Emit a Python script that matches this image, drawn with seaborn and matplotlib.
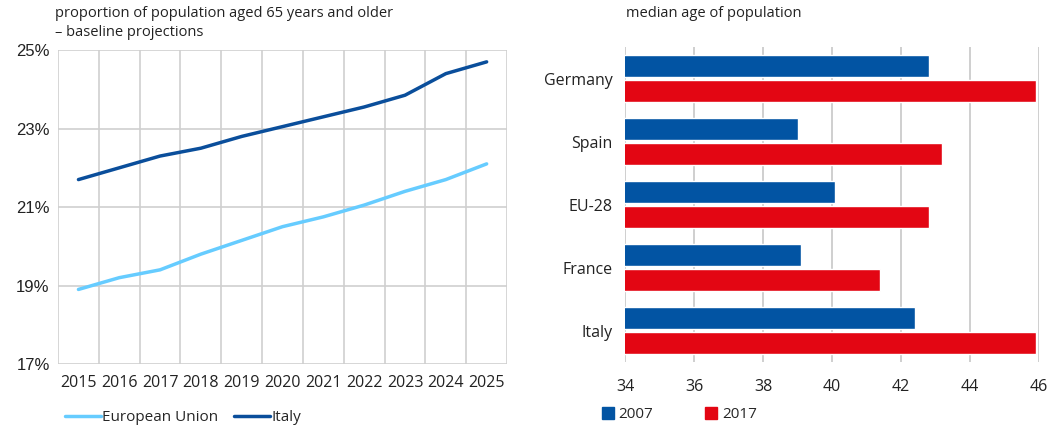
import numpy as np
import pandas as pd
import matplotlib.pyplot as plt
import seaborn as sns
from matplotlib.lines import Line2D
from matplotlib.patches import Patch
from matplotlib.ticker import MultipleLocator, FuncFormatter

# data: share of population aged 65+ (baseline projections)
years = [2015, 2016, 2017, 2018, 2019, 2020, 2021, 2022, 2023, 2024, 2025]
eu_share = [18.9, 19.2, 19.4, 19.8, 20.15, 20.5, 20.75, 21.05, 21.4, 21.7, 22.1]
italy_share = [21.7, 22.0, 22.3, 22.5, 22.8, 23.05, 23.3, 23.55, 23.85, 24.4, 24.7]
share_ticks = [17, 19, 21, 23, 25]

# data: median age of population
countries = ["Germany", "Spain", "EU-28", "France", "Italy"]
median_2007 = [42.8, 39.0, 40.1, 39.1, 42.4]
median_2017 = [45.9, 43.2, 42.8, 41.4, 45.9]

c_eu = "#66CCFF"
c_it = "#0A4E9B"
c_2007 = "#0254A3"
c_2017 = "#E30613"
grid_c = "#CFCFCF"

sns.set_style("white")
plt.rcParams["font.family"] = ["Open Sans", "DejaVu Sans"]
plt.rcParams["font.size"] = 11

fig = plt.figure(figsize=(10.63, 4.30), dpi=100)

###################################################################
# left: line chart
###################################################################
ax1 = fig.add_axes([0.0546, 0.1535, 0.4224, 0.730])
line_df = pd.DataFrame({
    "year": years * 2,
    "share": eu_share + italy_share,
    "region": ["European Union"] * len(years) + ["Italy"] * len(years),
})
sns.lineplot(data=line_df, x="year", y="share", hue="region",
             palette={"European Union": c_eu, "Italy": c_it},
             linewidth=2.5, ax=ax1, legend=False)

ax1.set_xlim(2014.5, 2025.5)
ax1.set_ylim(17, 25)
ax1.set_xticks(years)
ax1.set_xticks(np.arange(2014.5, 2026, 1), minor=True)
ax1.set_yticks(share_ticks)
ax1.yaxis.set_major_formatter(FuncFormatter(lambda v, p: f"{v:.0f}%"))
ax1.grid(which="minor", axis="x", color=grid_c, linewidth=1.2)
ax1.grid(which="major", axis="y", color=grid_c, linewidth=1.2)
ax1.tick_params(axis="both", which="both", length=0, labelsize=11.5, colors="#222222")
ax1.tick_params(axis="x", pad=8)
ax1.tick_params(axis="y", pad=6)
for lbl in ax1.get_yticklabels():
    lbl.set_family(["Liberation Sans", "DejaVu Sans"])
    lbl.set_fontsize(12)
for s in ax1.spines.values():
    s.set_visible(False)
ax1.set_xlabel("")
ax1.set_ylabel("")

fig.text(0.0515, 0.985, "proportion of population aged 65 years and older\n\u2013 baseline projections",
         ha="left", va="top", fontsize=10.5, color="#222222", linespacing=1.3)

leg1 = [Line2D([0], [0], color=c_eu, lw=2.5, label="European Union"),
        Line2D([0], [0], color=c_it, lw=2.5, label="Italy")]
fig.legend(handles=leg1, loc="center left", bbox_to_anchor=(0.048, 0.028), ncol=2,
           frameon=False, fontsize=11, handlelength=2.4, handletextpad=0.05,
           columnspacing=1.0)

###################################################################
# right: horizontal bar chart
###################################################################
ax2 = fig.add_axes([0.588, 0.1581, 0.3894, 0.7326])
bar_df = pd.DataFrame({
    "country": countries * 2,
    "age": median_2007 + median_2017,
    "year": ["2007"] * len(countries) + ["2017"] * len(countries),
})
sns.barplot(data=bar_df, y="country", x="age", hue="year", orient="h",
            palette={"2007": c_2007, "2017": c_2017}, width=0.78, gap=0.12,
            saturation=1, ax=ax2, legend=False)

ax2.set_xlim(34, 46)
ax2.set_ylim(4.5, -0.5)
ax2.xaxis.set_major_locator(MultipleLocator(2))
ax2.grid(axis="x", color=grid_c, linewidth=1.4)
ax2.set_axisbelow(True)
ax2.tick_params(axis="both", length=0, labelsize=11.5, colors="#222222")
ax2.tick_params(axis="x", pad=12)
ax2.tick_params(axis="y", pad=9)
for s in ax2.spines.values():
    s.set_visible(False)
ax2.set_xlabel("")
ax2.set_ylabel("")

fig.text(0.589, 0.985, "median age of population", ha="left", va="top",
         fontsize=10.5, color="#222222")

leg2 = [Patch(color=c_2007, label="2007"), Patch(color=c_2017, label="2017")]
fig.legend(handles=leg2, loc="center left", bbox_to_anchor=(0.553, 0.036), ncol=2,
           frameon=False, fontsize=11, handlelength=0.8, handleheight=0.8,
           handletextpad=0.3, columnspacing=3.4)

fig.savefig("out.png", dpi=100)
